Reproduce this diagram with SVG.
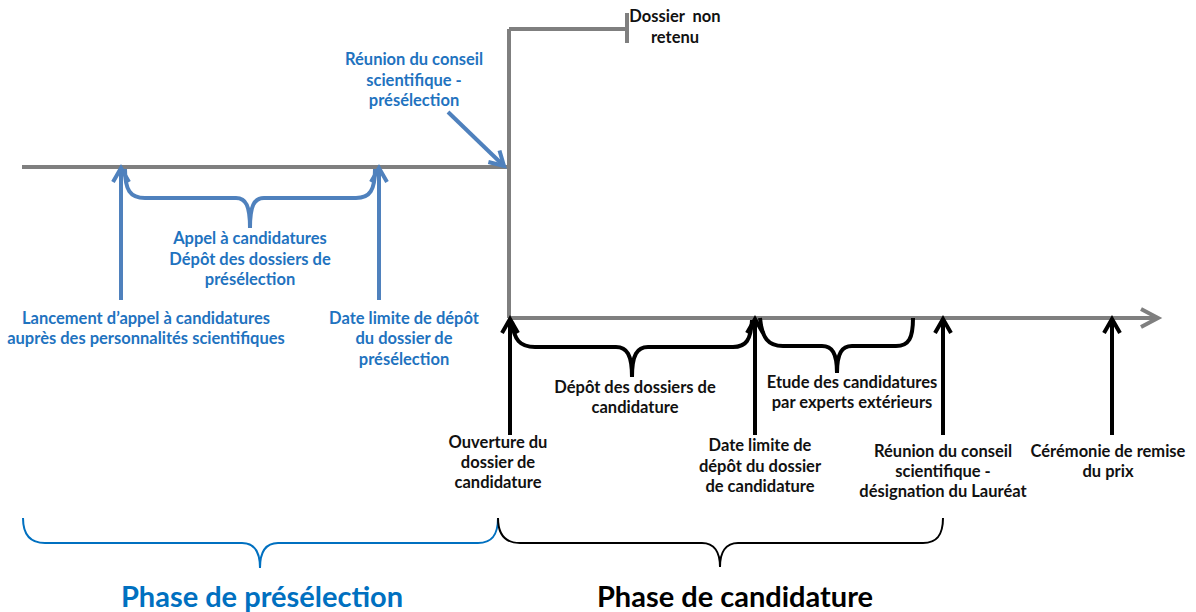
<svg xmlns="http://www.w3.org/2000/svg" width="1196" height="612" viewBox="0 0 1196 612">
<defs>
<style>
.t{font-family:Lato,"Liberation Sans",sans-serif;font-weight:bold;font-size:16.5px;text-anchor:middle}
.bt{fill:#1F73BF}
.kt{fill:#111}
.ph{font-family:Lato,"Liberation Sans",sans-serif;font-weight:bold;font-size:29px;text-anchor:middle}
.gray{fill:none;stroke:#7F7F7F;stroke-width:4}
.barr{fill:none;stroke:#4F81BD;stroke-width:4}
.karr{fill:none;stroke:#000;stroke-width:4}
</style>
<marker id="mb" markerUnits="userSpaceOnUse" viewBox="-16 -10 20 20" refX="0" refY="0" markerWidth="20" markerHeight="20" orient="auto" overflow="visible">
<path d="M-14,-8 L0,0 L-14,8" fill="none" stroke="#4F81BD" stroke-width="4"/>
</marker>
<marker id="mk" markerUnits="userSpaceOnUse" viewBox="-16 -10 20 20" refX="0" refY="0" markerWidth="20" markerHeight="20" orient="auto" overflow="visible">
<path d="M-14,-8 L0,0 L-14,8" fill="none" stroke="#000" stroke-width="4"/>
</marker>
<marker id="mg" markerUnits="userSpaceOnUse" viewBox="-20 -12 24 24" refX="0" refY="0" markerWidth="24" markerHeight="24" orient="auto" overflow="visible">
<path d="M-17,-9 L0,0 L-17,9" fill="none" stroke="#7F7F7F" stroke-width="4"/>
</marker>
</defs>
<rect width="1196" height="612" fill="#fff"/>

<g id="timeline">
<path class="gray" d="M22,167 H509"/>
<path class="gray" d="M509,167 V318"/>
<path class="gray" d="M509,29 V167"/>
<path class="gray" d="M509,29 H627"/>
<path class="gray" d="M627,13 V43"/>
<path class="gray" d="M509,318 H1158" marker-end="url(#mg)"/>
</g>

<g id="connectors">
<path class="barr" d="M448,112 L504,166" marker-end="url(#mb)"/>
<path class="barr" d="M121,300 V168" marker-end="url(#mb)"/>
<path class="barr" d="M379,300 V168" marker-end="url(#mb)"/>
<path class="karr" d="M510,435 V319" marker-end="url(#mk)"/>
<path class="karr" d="M755,435 V319" marker-end="url(#mk)"/>
<path class="karr" d="M943,435 V319" marker-end="url(#mk)"/>
<path class="karr" d="M1112,435 V319" marker-end="url(#mk)"/>
</g>

<g id="braces">
<path class="barr" d="M125,169 C125,190 130,198 145,198 L236,198 C246,198 250,206 250,228 C250,206 254,198 264,198 L356,198 C370,198 375,190 375,169"/>
<path class="karr" d="M512,322 C514,340 520,347 535,347 L616,347 C627,347 632,355 632,377 C632,355 637,347 648,347 L733,347 C746,347 751,340 752,320"/>
<path class="karr" d="M760,318 C762,338 768,346 783,346 L822,346 C832,346 837,353 837,373 C837,353 842,346 852,346 L896,346 C909,346 913,338 913,318"/>
<path fill="none" stroke="#0070C0" stroke-width="2" d="M23,518 C23,535 30,543 45,543 L242,543 C254,543 260,552 260,568 C260,552 266,543 278,543 L478,543 C492,543 498,535 498,518"/>
<path fill="none" stroke="#000" stroke-width="2" d="M498,518 C498,535 505,543 520,543 L702,543 C714,543 720,552 720,567 C720,552 726,543 738,543 L923,543 C937,543 943,535 943,518"/>
</g>

<g id="n-reunion-pre">
<text class="t bt" x="414" y="65">Réunion du conseil</text>
<text class="t bt" x="414" y="86">scientifique -</text>
<text class="t bt" x="414" y="106">présélection</text>
</g>
<g id="n-non-retenu">
<text class="t kt" x="675" y="22" xml:space="preserve">Dossier  non</text>
<text class="t kt" x="675" y="43">retenu</text>
</g>
<g id="n-appel">
<text class="t bt" x="250" y="244">Appel à candidatures</text>
<text class="t bt" x="250" y="265">Dépôt des dossiers de</text>
<text class="t bt" x="250" y="285">présélection</text>
</g>
<g id="n-lancement">
<text class="t bt" x="146" y="324">Lancement d’appel à candidatures</text>
<text class="t bt" x="146" y="344">auprès des personnalités scientifiques</text>
</g>
<g id="n-date-pre">
<text class="t bt" x="404" y="324">Date limite de dépôt</text>
<text class="t bt" x="404" y="344">du dossier de</text>
<text class="t bt" x="404" y="365">présélection</text>
</g>
<g id="n-depot">
<text class="t kt" x="635" y="393">Dépôt des dossiers de</text>
<text class="t kt" x="635" y="413">candidature</text>
</g>
<g id="n-etude">
<text class="t kt" x="852" y="388">Etude des candidatures</text>
<text class="t kt" x="852" y="408">par experts extérieurs</text>
</g>
<g id="n-ouverture">
<text class="t kt" x="498" y="448">Ouverture du</text>
<text class="t kt" x="498" y="468">dossier de</text>
<text class="t kt" x="498" y="488">candidature</text>
</g>
<g id="n-date-cand">
<text class="t kt" x="760" y="451">Date limite de</text>
<text class="t kt" x="760" y="472">dépôt du dossier</text>
<text class="t kt" x="760" y="492">de candidature</text>
</g>
<g id="n-reunion-laureat">
<text class="t kt" x="943" y="457">Réunion du conseil</text>
<text class="t kt" x="943" y="477">scientifique -</text>
<text class="t kt" x="943" y="497">désignation du Lauréat</text>
</g>
<g id="n-ceremonie">
<text class="t kt" x="1108" y="457">Cérémonie de remise</text>
<text class="t kt" x="1108" y="477">du prix</text>
</g>
<g id="n-phase-pre">
<text class="ph" x="262" y="607" fill="#0070C0">Phase de présélection</text>
</g>
<g id="n-phase-cand">
<text class="ph" x="735" y="607" fill="#000">Phase de candidature</text>
</g>
</svg>
